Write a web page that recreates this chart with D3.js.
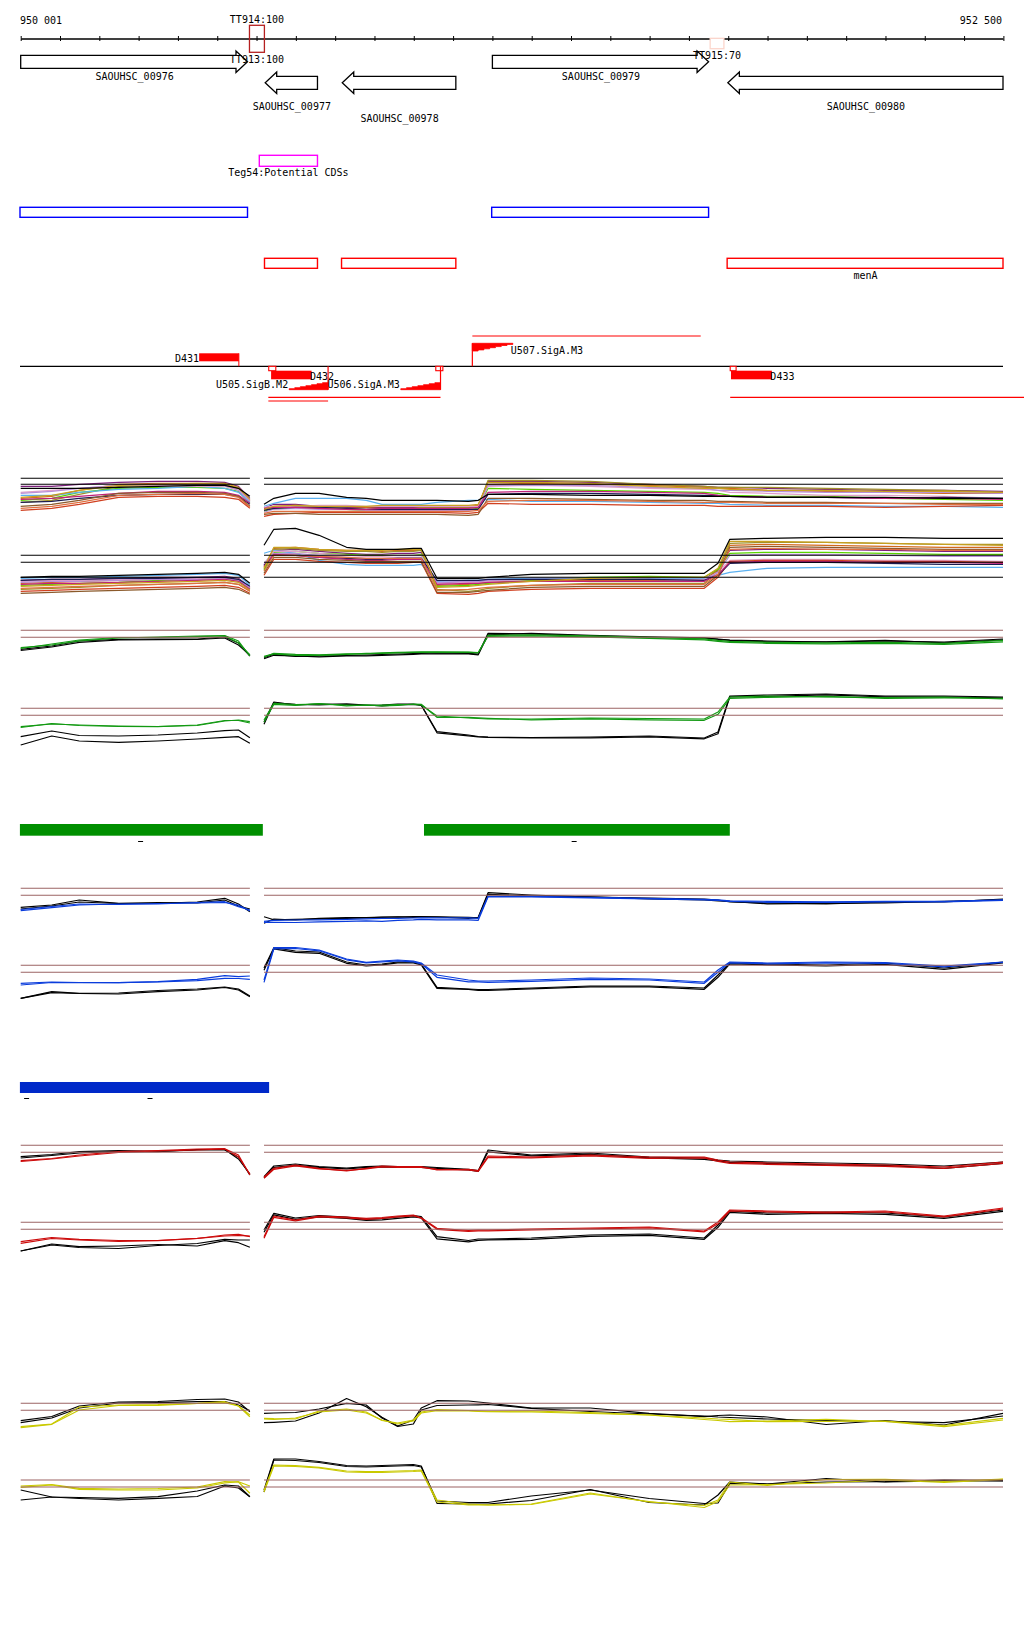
<!DOCTYPE html>
<html><head><meta charset="utf-8">
<script src="https://cdn.jsdelivr.net/npm/d3@7/dist/d3.min.js"></script>
<style>
html,body{margin:0;padding:0;background:#fff;}
svg text{font-family:"DejaVu Sans Mono",monospace;font-size:10px;fill:#000;}
</style></head><body>
<svg id="chart" width="1024" height="1640"></svg>
<script>
// ================= DATA =================
const axisDomain = [950001, 952500];
const axisLabels = ["950 001", "952 500"];

const geneNames   = ["SAOUHSC_00976","SAOUHSC_00977","SAOUHSC_00978","SAOUHSC_00979","SAOUHSC_00980"];
const geneStarts  = [950001, 950623, 950819, 951201, 951800];
const geneEnds    = [950578, 950756, 951108, 951751, 952500];
const geneStrands = ["+","-","-","+","-"];
const geneLabelRows = [0, 0, 1, 0, 0];
const geneSymbols = ["", "", "", "", "menA"];

const termNames  = ["TT914:100","TT915:70"];
const termStarts = [950583, 951755];
const termEnds   = [950621, 951790];
const termScores = [100, 70];
const extraTermLabel = "TT913:100";

const tegNames  = ["Teg54:Potential CDSs"];
const tegStarts = [950608];
const tegEnds   = [950756];

const tboxNames   = ["D431","D432","D433"];
const tboxStarts  = [950455, 950638, 951808];
const tboxEnds    = [950556, 950741, 951912];
const tboxStrands = ["+","-","-"];
const promNames   = ["U505.SigB.M2","U506.SigA.M3","U507.SigA.M3"];
const promStarts  = [950684, 950968, 951150];
const promEnds    = [950783, 951069, 951253];
const promStrands = ["-","-","+"];
const siteStarts  = [950632, 951057, 951806];
const siteEnds    = [950650, 951075, 951821];
const txStarts  = [951150, 950631, 950631, 951806];
const txEnds    = [951731, 951069, 950783, 952560];
const txStrands = ["+","-","-","-"];
const txRows    = [0, 0, 1, 0];

const greenBarStarts = [949999, 951027];
const greenBarEnds   = [950617, 951805];
const greenMarks     = [950306, 951409];
const blueBarStarts  = [949999];
const blueBarEnds    = [950633];
const blueMarks      = [950016, 950330];

// sampling positions (bp) of the expression profiles
const leftPos  = [950001, 950080, 950150, 950250, 950350, 950450, 950520, 950555, 950584];
const rightPos = [950620, 950645, 950700, 950760, 950830, 950880, 950920, 950960, 951000, 951020,
                  951060, 951140, 951165, 951190, 951300, 951450, 951600, 951740, 951775, 951805,
                  951900, 952050, 952200, 952350, 952500];

// multi-condition tracks (left 9 values, then right 25 values)
const multiColors = ["#7b1f7b","#d2691e","#a0902a","#5ad400","#5ab0f0","#e0a0c8","#b890d8",
                     "#d04020","#1c1c50","#c0207a","#c8a020","#8b5a2b","#e07040","#000000"];
const multiUpper = [
 [42,42,44,46,47,47,46,42,30, 20,24,24,22,21,21,21,21,21,21,21,21,22,47,47,46,44,42,41,41,40,39,38,38,37],
 [30,32,38,44,45,45,44,40,28, 18,22,23,22,22,21,22,22,22,22,22,22,23,44,45,44,43,41,40,40,38,37,36,35,35],
 [26,28,34,42,43,44,43,40,27, 19,21,22,21,20,19,20,20,20,21,21,21,22,48,48,47,44,42,41,41,41,40,39,38,36],
 [28,30,36,40,41,41,40,37,25, 17,20,21,20,19,18,19,19,19,19,19,19,20,40,39,38,37,36,35,33,32,32,30,29,28],
 [33,33,36,39,40,42,40,36,26, 22,25,30,30,30,28,24,24,24,24,26,28,28,29,27,27,26,25,25,24,23,23,22,22,21],
 [36,38,40,43,43,42,42,38,28, 21,22,22,23,23,22,22,22,22,22,22,22,22,42,43,42,40,39,38,36,35,33,33,32,30],
 [35,37,40,43,44,44,43,38,27, 16,19,20,19,19,18,18,18,18,18,18,18,19,43,43,43,41,40,38,38,37,36,36,36,35],
 [18,20,24,31,32,32,31,29,20, 12,14,15,16,16,16,16,16,16,16,16,15,16,25,24,24,23,23,22,22,22,22,21,22,23],
 [26,27,30,33,34,34,34,32,24, 18,20,21,21,20,19,19,19,19,19,19,19,19,34,35,35,34,33,33,32,31,31,30,31,30],
 [29,30,32,35,37,37,36,33,25, 20,21,21,20,19,19,20,20,20,20,20,20,21,36,37,37,36,35,33,32,31,31,30,30,29],
 [31,33,38,43,44,45,45,41,29, 19,22,23,22,22,22,23,23,23,23,23,23,24,46,46,45,42,40,40,39,38,38,37,37,36],
 [22,24,28,35,36,36,35,32,22, 14,15,15,14,14,14,14,14,14,14,14,13,14,30,30,29,28,28,27,27,26,26,25,25,25],
 [20,22,26,33,34,35,34,31,21, 15,17,17,17,17,17,17,17,17,17,17,17,18,27,28,28,27,26,26,26,25,25,25,24,24],
 [40,40,40,41,42,43,43,40,32, 24,30,35,35,31,30,28,28,28,28,28,27,28,34,34,33,33,32,32,32,31,31,31,30,30]
];
const multiLower = [
 [25,26,26,27,28,28,29,27,18, 40,55,56,54,52,51,51,52,52,53,22,24,24,25,27,27,27,26,35,55,56,56,55,54,54],
 [22,23,24,25,26,27,28,26,17, 38,57,58,56,55,55,54,55,55,55,20,21,22,23,25,25,25,24,36,60,61,60,59,58,58],
 [16,17,18,20,21,22,23,21,14, 36,56,57,55,54,54,53,54,54,55,16,14,15,17,20,22,22,22,34,62,63,63,62,61,61],
 [20,21,22,23,25,26,27,25,16, 35,53,54,52,51,50,50,50,50,51,19,20,21,22,25,28,29,28,36,52,53,53,52,51,51],
 [27,28,28,29,30,31,32,30,20, 52,55,52,45,41,40,40,40,40,41,24,25,25,26,27,27,27,27,30,33,37,38,38,38,38],
 [24,25,25,26,27,27,28,26,18, 42,54,54,52,50,49,49,50,50,50,22,23,23,24,26,26,26,26,33,45,46,46,45,45,44],
 [23,24,24,25,26,26,27,25,17, 41,52,52,50,48,47,47,48,48,48,23,24,24,25,26,26,26,25,33,50,51,51,50,49,49],
 [14,15,16,17,18,19,20,18,12, 30,46,46,44,43,42,42,42,43,43,12,11,12,14,16,17,17,17,28,44,45,45,44,44,43],
 [25,26,26,27,27,28,28,26,19, 40,50,50,48,47,46,46,47,47,47,25,25,25,26,26,26,26,25,30,42,43,43,42,41,41],
 [21,22,22,23,24,25,26,24,16, 39,51,50,48,46,45,45,46,46,46,21,22,22,23,24,24,24,24,31,43,44,44,43,43,42],
 [19,20,21,22,23,24,25,23,15, 37,58,58,56,55,55,55,56,56,56,18,19,20,21,24,27,28,28,37,64,64,63,62,61,60],
 [12,13,14,15,16,17,18,16,11, 32,48,48,46,45,44,44,44,44,44,13,13,14,15,18,19,19,19,30,58,59,58,57,56,56],
 [17,18,19,20,21,22,23,21,14, 34,50,50,49,48,47,47,47,47,47,15,16,17,18,20,21,21,21,31,56,57,56,56,55,55],
 [28,29,29,30,31,32,33,31,22, 60,76,77,70,58,56,56,56,57,57,27,27,27,28,31,32,32,32,42,66,67,68,68,67,67]
];

// paired tracks: [black rep1, black rep2, colour rep1, colour rep2]
const greenUpper = [
 [31,34.3,39.3,41,41.3,41.3,43.3,37.3,24.3, 22.6,26,23.8,24.3,24.8,25.3,25.8,26.3,26.8,27,27.3,27,26.3,47,46.3,44.3,42.8,42.3,41.3,40.3,39.3,38.3,39.3,38.3,41.3],
 [29.8,33.3,38,40.3,40.6,40.8,42.3,35.3,25.3, 21.5,25,24.5,23.5,24.5,24.5,25,25.5,26,26.3,26.5,26.5,25.5,45.5,47,45,43.5,42.5,41,40,38.5,38.5,40,37.5,40.5],
 [32.6,35.3,39.3,42.3,43.3,44.3,44.8,39.3,24.3, 24,26.5,25,25,26,27,27,27.5,28,28,28,28,27.5,45,45.5,44.5,43,41.5,40,39,38,37.5,38,37,40],
 [31.8,36.3,40.3,42.8,42.8,43.6,44.3,37.3,25.3, 23,27,26,25.5,26.5,26.5,27.5,28,28.3,28.5,28.5,28.3,27.8,44,44.5,43.5,42,40.5,39,38,37,36.5,37,36,38.5]
];
const greenLower = [
 [21.6,27.3,22.8,22.3,23.3,25.3,27.6,28.3,20.6, 36.3,56.3,53.3,54.3,53.8,52.8,53.3,54.3,54.3,53.3,26.6,23.3,21.8,21.3,20.8,21.3,22.3,20.3,26.3,62.3,63.3,64.3,62.3,62.3,61.3],
 [13.3,22.3,17.3,16,17.3,19.3,21,21.6,15, 34,55.5,54,53.5,54.5,53.3,52.5,53.5,53.8,53,25.5,22.5,21.5,21,20.5,20.5,21.5,19.5,24.5,61.5,62,63.5,61.5,61.5,60.5],
 [31.6,34.3,33.3,32.3,31.8,32.8,37.3,38.3,36.6, 38.3,55,53.8,54.3,53.3,52.8,53.3,53.8,53.8,53.3,42.3,40.3,39.8,39.3,39.3,40.3,39.8,39.3,46.3,61.3,62.3,61.3,60.8,61.3,59.3],
 [30.8,34.8,32.8,31.8,31.6,33.3,37.8,37.8,35.3, 36,54,53,54.8,52.5,53.5,52.5,53,54.3,54,41,41,40.5,40,38.5,39.5,38.5,38,44,60,61,62,60,60.5,60]
];
const blueUpper = [
 [31,33.3,38.3,35,35,36.3,40,34.3,26.6, 15,19.3,18.3,20,20.6,20.8,21.3,21.3,21.6,21.6,21.3,20,21,45.6,43.3,41.3,40.3,39.3,38.3,36.3,35.3,34.3,36.3,36.3,39.3],
 [29.3,32.3,36.3,34.8,35.8,35.3,38.3,32.3,29.3, 21.5,18.5,19,19.5,20,20.5,21,21.5,21,21.5,21.5,21,20.5,44,42.5,41.5,39.5,38.5,37.5,37,34.5,35,35.5,37,38.5],
 [27.6,30.6,33.3,34.3,34.3,35.8,36.6,31.6,28.3, 17,18,18.3,18.5,19,19.5,20,20,20.3,20.5,20.5,20.5,20,42,42,41,40,39,38.5,37.5,37,36.5,37,37,38.5],
 [28.8,31.8,34.3,33.8,34.8,35.3,35.8,33.3,27.3, 16,16,15.8,16.5,17,17.5,17,18,18.5,19,18.5,18.5,18,41.5,41.5,40.5,39.5,38.5,38,37,36,36,36.5,36.5,38]
];
const blueLower = [
 [17,23.6,22,22.3,24.8,26.3,28.3,26.3,19.3, 47.3,67.6,64.3,63.3,53.3,50.3,51.3,53.3,53.3,51.3,28,26.3,25.8,25.8,27.3,29.3,29.3,27.3,40.3,52.3,51.3,50.3,52.3,47.3,53.3],
 [17,22.6,21.8,21.3,23.6,25.3,27.8,25.3,18.6, 45,66.5,63,62,52,49.5,50.5,52.5,52.5,50.5,27,26,25,25,26.5,28.5,28.5,26,38,51.5,50.5,49.3,51,46,52.5],
 [32,33.3,32.8,32.6,33.6,36,39.6,38.6,39.3, 35.3,67.6,67.8,65.3,56.3,53,54.3,55.3,54.3,52.3,40.3,35.3,34.3,34.3,35.3,37.3,36.3,33.3,45.3,53.3,52.3,53.3,52.8,49.3,53.3],
 [30.3,32.8,32.6,32.6,33.3,34.6,37,36.8,36, 33,66.5,66.8,64.5,55.5,52.5,53.5,54.5,53.5,51.5,38,33.5,33.5,33,34,36,35.3,32,43,52.5,51.5,52.5,51.8,48.5,52.8]
];
const redUpper = [
 [38.6,40.8,43.6,44.6,44,45.3,45.3,38.3,20.3, 18.6,29.3,31.3,28.6,27.3,28.6,29.3,28.8,28.6,28.6,27.8,26,24.6,45.3,40.3,42.3,38.3,37.3,35.3,34.3,33.3,32.3,31.3,29.3,33.3],
 [37.3,39.8,42.3,43.8,43.6,45.8,45.8,36.3,21.3, 17.5,28,30,28,26.5,28,28.5,28,28,28,27,25.5,24,43.5,39.5,41,37.5,36,34.5,33,32,30.5,30,27,32],
 [34.6,36.8,40.3,43.6,44.6,46.3,46.6,40.3,20.3, 18.3,27,30.3,27,24.3,27,29.3,28.6,28.6,28.6,25.3,26,24.6,39.3,38.3,40.3,38.3,38.3,35.3,33.3,32.3,31.3,30.3,28.3,33.3],
 [33.8,36.3,39.3,42.8,44.3,45.3,46.3,38.3,21.3, 17,26,29.5,26.5,25,26.5,28.5,28,28,28,26,25.5,24,38,37.5,39.5,37,37.5,34,32,31,30,29,27,32]
];
const redLower = [
 [21.3,28.3,25.6,26.3,27.8,26.3,31.6,29.6,25, 42.3,59,54.3,56.8,55.3,53,53.8,55.3,56.8,55.6,35.6,31.8,33.3,33.3,34.3,37.3,38.3,34.3,47.3,61.3,59.3,60.3,59.3,55.3,62.3],
 [21.3,27.3,24.8,23.8,26.8,28.8,33,32.3,32.3, 40,57.5,53,55.5,54,52,52.5,54,55.5,54.5,33.5,30.5,32,32.5,33,36,37,33,45,60,58,59,58,54,61],
 [30.6,34.8,33,31.8,31.8,33.8,37.3,38,35.6, 35.6,56.3,52.3,56.3,55.3,54,54.8,56.3,57.3,54.6,44,41.8,42.3,42.3,43.3,44.3,45.3,41.3,50.3,62.3,61.3,60.3,61.3,56.3,64.3],
 [29,33.8,32.3,30.8,31.6,34,36.3,36.8,36.3, 34,55,51.5,55.5,54.5,53,54,55.5,56.5,54,43,41,41.5,41.5,42.5,43.5,44.5,40.5,48.5,61.3,60.5,59.5,60.3,55.5,63.3]
];
const yellowUpper = [
 [32.6,36.8,47.3,51.3,51.8,53.8,54.3,51.3,41.6, 30.6,31,32.3,40.3,54.8,46.6,36,27.3,33.3,45.3,52.6,52.3,51.3,50.3,45.3,45.3,40,36.6,37.8,38.3,36.3,28.8,32.8,28.3,40],
 [30.6,35.3,45.3,50.3,50.6,51.6,51.6,48.3,42.6, 40,40.3,40.8,44.3,50,48.3,35.3,26.8,29.3,43.3,47.8,48.3,48.5,48.8,45,41.8,39.3,37.3,36.3,35.8,34.3,32.8,31.8,30.6,37.3],
 [26.6,29.3,46.3,48.3,48.6,50,51.6,47.3,38.3, 35,34.6,34.3,42.3,44.3,41.3,32.8,30.3,33.3,41.3,43.8,42.8,42.3,41.8,42.3,40.6,38.3,35.3,34.3,34,31.6,31.8,32.3,27.8,35],
 [25.6,29,43.3,47.8,48,49.8,50.6,47.3,36.6, 34.3,33.8,35.3,41.3,43.3,40.3,33.3,29.3,32.3,40.3,42.6,42.3,41.8,41.6,41.3,39.8,38.3,33.8,32.8,31.6,32.3,34,31.8,26.6,33.3]
];
const yellowLower = [
 [40,33,32.5,31.7,33.3,39,45,44,33.3, 40,71,71,68.5,64.5,64,64.5,65,65.5,64,26.7,26,26,26,29.5,40.5,27.5,25,35,48,46,51.5,48,49,49],
 [30,33,31.5,30,31.7,33.5,44,42,33.3, 38,70,69.5,67.5,63.5,63,63.5,64,64.5,63,29,27.5,27.5,27.5,34,40,31.5,26.5,27,46.5,46,48,48.3,50,49.3],
 [44,45.5,41.7,41,41.5,43,48.3,48,36.7, 40,65,64.3,62.7,59,58.3,58.5,59,59.5,60,30,26,25.5,25,26,37,28,24.5,30,48,44.5,50.5,50.7,48.5,51],
 [42.7,45,40.7,40,40,42,47,48.3,44, 38,64,63.5,62,58,57.5,57.5,58,58.5,59,28,25,25,25,25.5,36,28.5,22.5,28.5,45,45.5,47,50,47.5,50.7]
];

// ================= DRAWING =================
const W = 1024;
const svg = d3.select("#chart");
const x = d3.scaleLinear().domain(axisDomain).range([20.7, 1003]);

// ---- ruler ----
const axisY = 38.5;
const tickVals = d3.range(axisDomain[0], axisDomain[1] + 2, 100);
const axB = d3.axisBottom(x).tickValues(tickVals).tickSize(2.5).tickSizeOuter(0).tickFormat("");
const axT = d3.axisTop(x).tickValues(tickVals).tickSize(2.5).tickSizeOuter(0).tickFormat("");
svg.append("g").attr("transform", `translate(0,${axisY})`).call(axB);
svg.append("g").attr("transform", `translate(0,${axisY})`).call(axT);
svg.selectAll(".domain, .tick line").attr("stroke", "#000").attr("stroke-width", 1);
svg.append("text").attr("x", 20).attr("y", 24).text(axisLabels[0]);
svg.append("text").attr("x", 1002).attr("y", 24).attr("text-anchor", "end").text(axisLabels[1]);

// ---- terminators on ruler ----
const termStyle = {100: {stroke: "#b52020", y0: 25.3, y1: 52.3, fill: "none", ly: 22.5},
                   70:  {stroke: "#fcd6cc", y0: 38.3, y1: 48.7, fill: "#fff", ly: 58.5}};
termNames.forEach((n, i) => {
  const st = termStyle[termScores[i]];
  svg.append("rect").attr("x", x(termStarts[i])).attr("y", st.y0)
    .attr("width", x(termEnds[i]) - x(termStarts[i])).attr("height", st.y1 - st.y0)
    .attr("fill", st.fill).attr("stroke", st.stroke).attr("stroke-width", 1.3);
});

// ---- genes ----
const rowY = {"+": [55.3, 68.3], "-": [76.3, 89.3]};
const headLen = 11.5, headExt = 4.2;
geneNames.forEach((n, i) => {
  const [yt, yb] = rowY[geneStrands[i]];
  const ym = (yt + yb) / 2;
  const a = x(geneStarts[i]), b = x(geneEnds[i]);
  let pts;
  if (geneStrands[i] === "+") {
    const hb = b - headLen;
    pts = [[a, yt], [hb, yt], [hb, yt - headExt], [b, ym], [hb, yb + headExt], [hb, yb], [a, yb]];
  } else {
    const hb = a + headLen;
    pts = [[b, yt], [hb, yt], [hb, yt - headExt], [a, ym], [hb, yb + headExt], [hb, yb], [b, yb]];
  }
  svg.append("path").attr("d", d3.line()(pts) + "Z").attr("fill", "#fff")
    .attr("stroke", "#000").attr("stroke-width", 1.3);
});
termNames.forEach((n, i) => {
  const st = termStyle[termScores[i]];
  svg.append("text").attr("x", (x(termStarts[i]) + x(termEnds[i])) / 2).attr("y", st.ly)
    .attr("text-anchor", "middle").text(n);
});
svg.append("text").attr("x", (x(termStarts[0]) + x(termEnds[0])) / 2).attr("y", 62.7)
  .attr("text-anchor", "middle").text(extraTermLabel);
const labelBase = {"+": [80, 80], "-": [110, 121.7]};
geneNames.forEach((n, i) => {
  svg.append("text").attr("x", (x(geneStarts[i]) + x(geneEnds[i])) / 2 + 0.5)
    .attr("y", labelBase[geneStrands[i]][geneLabelRows[i]]).attr("text-anchor", "middle").text(n);
});

// ---- Teg features ----
tegNames.forEach((n, i) => {
  svg.append("rect").attr("x", x(tegStarts[i])).attr("y", 155.3)
    .attr("width", x(tegEnds[i]) - x(tegStarts[i])).attr("height", 11)
    .attr("fill", "none").attr("stroke", "#ff00ff").attr("stroke-width", 1.4);
  svg.append("text").attr("x", (x(tegStarts[i]) + x(tegEnds[i])) / 2).attr("y", 175.7)
    .attr("text-anchor", "middle").text(n);
});

// ---- CDS boxes by strand ----
geneNames.forEach((n, i) => {
  const plus = geneStrands[i] === "+";
  const y0 = plus ? 207.3 : 258.3;
  const a = Math.max(x(geneStarts[i]) - 0.7, 20);
  svg.append("rect").attr("x", a).attr("y", y0)
    .attr("width", x(geneEnds[i]) - a).attr("height", 10)
    .attr("fill", "none").attr("stroke", plus ? "#0000ff" : "#ff0000").attr("stroke-width", 1.4);
  if (geneSymbols[i]) {
    svg.append("text").attr("x", (x(geneStarts[i]) + x(geneEnds[i])) / 2).attr("y", 279)
      .attr("text-anchor", "middle").text(geneSymbols[i]);
  }
});

// ---- transcription units track ----
const baseY = 366.3;
svg.append("line").attr("x1", 20).attr("x2", 1003).attr("y1", baseY).attr("y2", baseY)
  .attr("stroke", "#000").attr("stroke-width", 1.3);
const RED = "#ff0000";
const txY = {"+": [336], "-": [397.3, 401]};
txStarts.forEach((s, i) => {
  svg.append("line").attr("x1", x(s)).attr("x2", Math.min(x(txEnds[i]), W))
    .attr("y1", txY[txStrands[i]][txRows[i]]).attr("y2", txY[txStrands[i]][txRows[i]])
    .attr("stroke", RED).attr("stroke-width", 1.2);
});
tboxNames.forEach((n, i) => {
  const a = x(tboxStarts[i]), b = x(tboxEnds[i]);
  if (tboxStrands[i] === "+") {
    svg.append("rect").attr("x", a).attr("y", 353.3).attr("width", b - a).attr("height", 8).attr("fill", RED);
    svg.append("line").attr("x1", b).attr("x2", b).attr("y1", 353.3).attr("y2", baseY).attr("stroke", RED);
    svg.append("text").attr("x", a).attr("y", 361.5).attr("text-anchor", "end").text(n);
  } else {
    svg.append("rect").attr("x", a).attr("y", 370.7).attr("width", b - a).attr("height", 8.6).attr("fill", RED);
    svg.append("text").attr("x", b - 1.5).attr("y", 379.8).text(n);
  }
});
siteStarts.forEach((s, i) => {
  svg.append("rect").attr("x", x(s)).attr("y", baseY).attr("width", x(siteEnds[i]) - x(s)).attr("height", 4.4)
    .attr("fill", "#fff").attr("stroke", RED).attr("stroke-width", 1.1);
});
const nSteps = 7;
promNames.forEach((n, i) => {
  const a = x(promStarts[i]), b = x(promEnds[i]);
  if (promStrands[i] === "-") {
    const yb = 389.7, h = 7;
    let p = `M${a},${yb}`;
    for (let k = 1; k <= nSteps; k++) {
      const xs = a + (b - a) * (k - 1) / nSteps, xe = a + (b - a) * k / nSteps;
      p += `L${xs},${yb - h * k / nSteps}L${xe},${yb - h * k / nSteps}`;
    }
    p += `L${b},${yb}Z`;
    svg.append("path").attr("d", p).attr("fill", RED).attr("stroke", RED).attr("stroke-width", 0.8);
    svg.append("line").attr("x1", b).attr("x2", b).attr("y1", baseY).attr("y2", yb).attr("stroke", RED).attr("stroke-width", 1.2);
    svg.append("text").attr("x", a - 1).attr("y", 387.5).attr("text-anchor", "end").text(n);
  } else {
    const yt = 343.3, h = 7.7;
    let p = `M${a},${yt}`;
    for (let k = 0; k < nSteps; k++) {
      const xs = a + (b - a) * k / nSteps, xe = a + (b - a) * (k + 1) / nSteps;
      p += `L${xs},${yt + h * (nSteps - k) / nSteps}L${xe},${yt + h * (nSteps - k) / nSteps}`;
    }
    p += `L${b},${yt}Z`;
    svg.append("path").attr("d", p).attr("fill", RED).attr("stroke", RED).attr("stroke-width", 0.8);
    svg.append("line").attr("x1", a).attr("x2", a).attr("y1", baseY).attr("y2", yt).attr("stroke", RED).attr("stroke-width", 1.2);
    svg.append("text").attr("x", b - 2).attr("y", 353.7).text(n);
  }
});

// ---- expression panels ----
const allPos = leftPos.concat(rightPos);
const nL = leftPos.length;
function drawPanel(series, colors, yTop, refVals, refColor) {
  const y = d3.scaleLinear().domain([0, 60]).range([yTop + 50, yTop - 10]);
  const g = svg.append("g");
  const line = d3.line().x(d => x(d[0])).y(d => y(d[1]));
  series.forEach((vals, si) => {
    const pts = vals.map((v, k) => [allPos[k], v]);
    [pts.slice(0, nL), pts.slice(nL)].forEach(seg => {
      g.append("path").attr("d", line(seg)).attr("fill", "none")
        .attr("stroke", colors[si]).attr("stroke-width", 1.2).attr("stroke-linejoin", "round");
    });
  });
  [[leftPos[0], leftPos[nL - 1]], [rightPos[0], rightPos[rightPos.length - 1]]].forEach(([s, e]) => {
    refVals.forEach(v => {
      g.append("line").attr("x1", x(s)).attr("x2", x(e)).attr("y1", y(v)).attr("y2", y(v))
        .attr("stroke", refColor).attr("stroke-width", 1.1);
    });
  });
}
const BRN = "#9b6363";
drawPanel(multiUpper, multiColors, 478.3, [50, 44], "#000");
drawPanel(multiLower, multiColors, 555.3, [50, 43, 28], "#000");
const pairCols = c => ["#000", "#000", c, c];
drawPanel(greenUpper, pairCols("#129912"), 630.3, [50, 43], BRN);
drawPanel(greenLower, pairCols("#129912"), 708.3, [50, 43], BRN);
drawPanel(blueUpper, pairCols("#0a3cdc"), 888.3, [50, 43], BRN);
drawPanel(blueLower, pairCols("#0a3cdc"), 965.3, [50, 43], BRN);
drawPanel(redUpper, pairCols("#cc0a0a"), 1145.3, [50, 43], BRN);
drawPanel(redLower, pairCols("#cc0a0a"), 1222.3, [50, 43], BRN);
drawPanel(yellowUpper, pairCols("#c9c900"), 1403.3, [50, 43], BRN);
drawPanel(yellowLower, pairCols("#c9c900"), 1480, [50, 43], BRN);

// ---- region bars ----
greenBarStarts.forEach((s, i) => {
  svg.append("rect").attr("x", x(s)).attr("y", 824).attr("width", x(greenBarEnds[i]) - x(s)).attr("height", 11.7).attr("fill", "#008f00");
});
greenMarks.forEach(m => {
  svg.append("line").attr("x1", x(m) - 2.5).attr("x2", x(m) + 2.5).attr("y1", 841.5).attr("y2", 841.5).attr("stroke", "#000");
});
blueBarStarts.forEach((s, i) => {
  svg.append("rect").attr("x", x(s)).attr("y", 1082).attr("width", x(blueBarEnds[i]) - x(s)).attr("height", 11).attr("fill", "#0029c9");
});
blueMarks.forEach(m => {
  svg.append("line").attr("x1", x(m) - 2.5).attr("x2", x(m) + 2.5).attr("y1", 1098.5).attr("y2", 1098.5).attr("stroke", "#000");
});
</script>
</body></html>
